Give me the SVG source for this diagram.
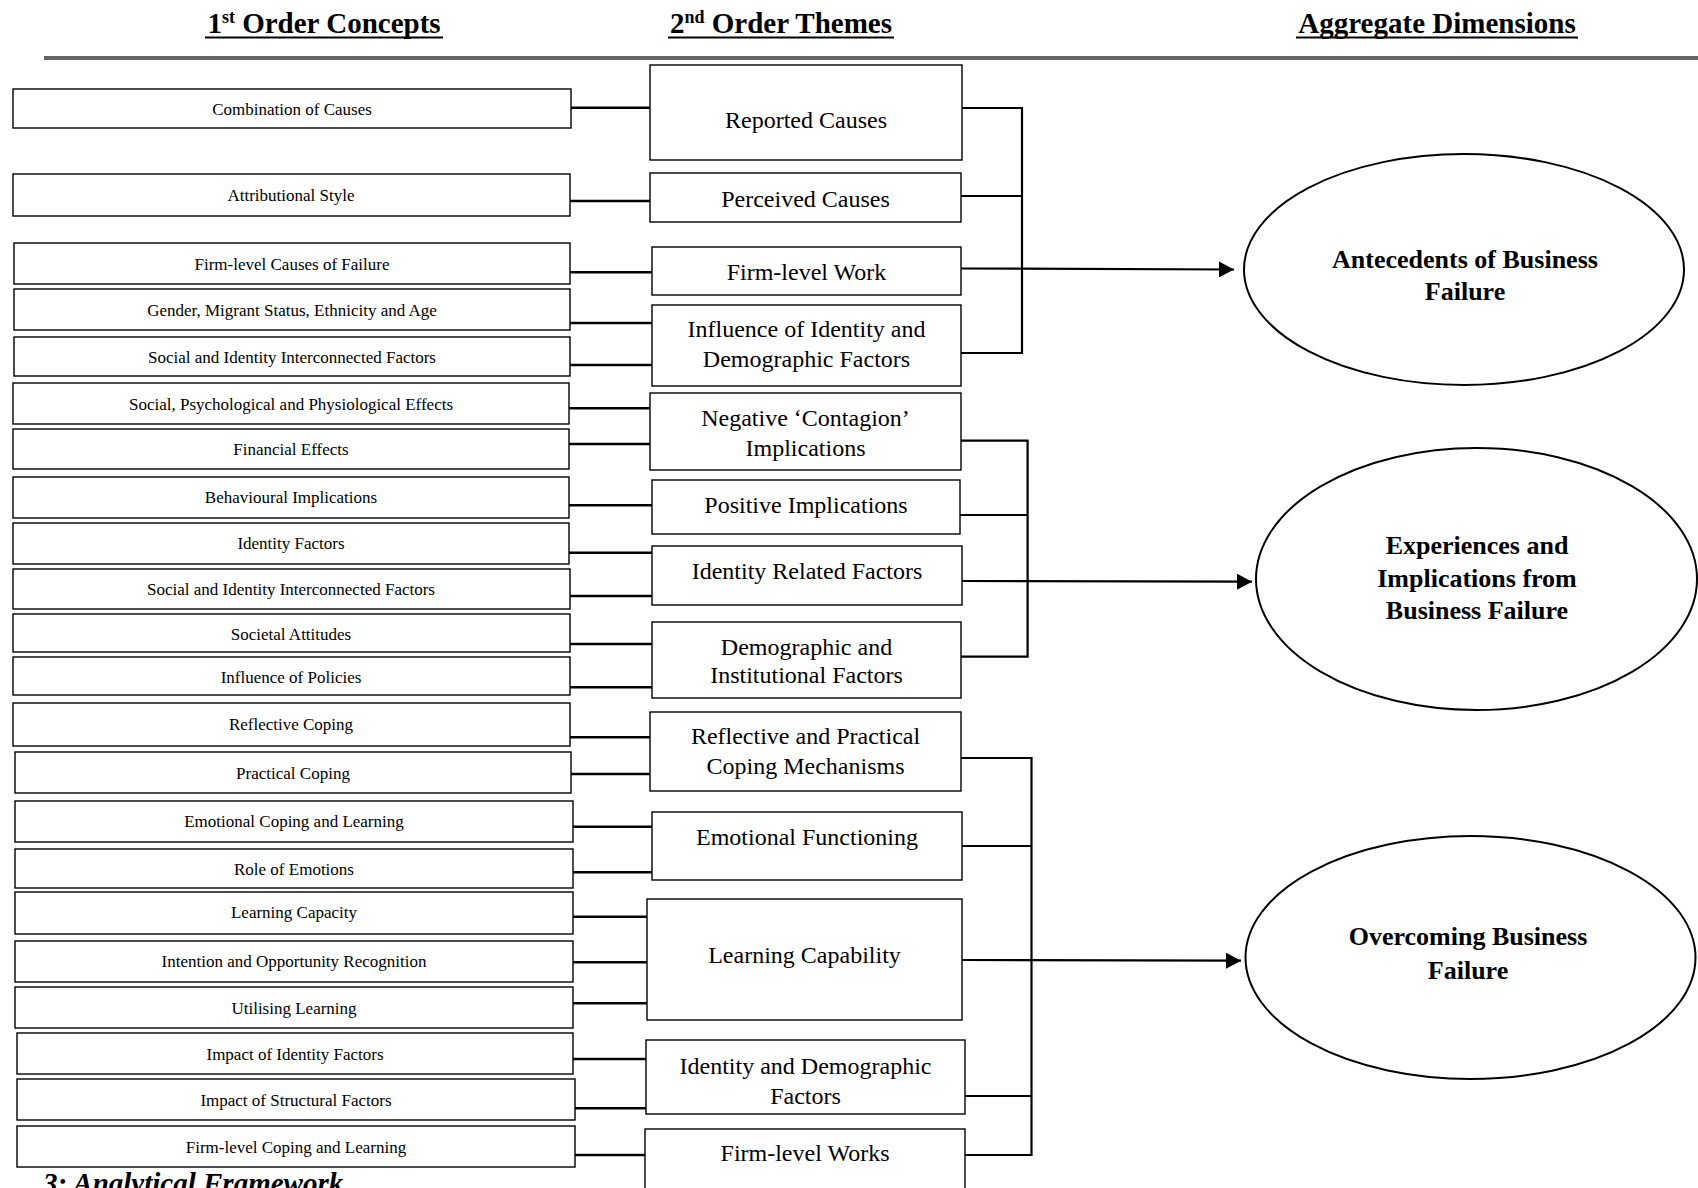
<svg xmlns="http://www.w3.org/2000/svg" width="1698" height="1188" viewBox="0 0 1698 1188">
<style>
.bx{fill:#fff;stroke:#000;stroke-width:1.4}
.t1{font-family:"Liberation Serif","Times New Roman",serif;font-size:17px;text-anchor:middle;fill:#000}
.t2{font-family:"Liberation Serif","Times New Roman",serif;font-size:24px;text-anchor:middle;fill:#000}
.el{fill:#fff;stroke:#000;stroke-width:2}
.t3{font-family:"Liberation Serif","Times New Roman",serif;font-size:26px;font-weight:bold;text-anchor:middle;fill:#000}
.hd{font-family:"Liberation Serif","Times New Roman",serif;font-size:29px;font-weight:bold;text-anchor:middle;fill:#000}
.c{stroke:#000;stroke-width:2.6;fill:none}
.br{stroke:#000;stroke-width:2.2;fill:none}
.ar{stroke:#000;stroke-width:2.2;fill:none;marker-end:url(#ah)}
</style>
<defs>
<marker id="ah" markerUnits="userSpaceOnUse" markerWidth="16" markerHeight="16" refX="15" refY="8" orient="auto">
<path d="M0,0 L15,8 L0,16 Z" fill="#000"/>
</marker>
</defs>
<rect width="1698" height="1188" fill="#fff"/>

<!-- headers -->
<text class="hd" x="324" y="33">1<tspan font-size="18" dy="-10">st</tspan><tspan dy="10"> Order Concepts</tspan></text>
<text class="hd" x="781" y="33">2<tspan font-size="18" dy="-10">nd</tspan><tspan dy="10"> Order Themes</tspan></text>
<text class="hd" x="1437" y="33">Aggregate Dimensions</text>
<g stroke="#000" stroke-width="2">
<line x1="205" y1="37.5" x2="443" y2="37.5"/>
<line x1="668" y1="37.5" x2="894" y2="37.5"/>
<line x1="1296" y1="37.5" x2="1578" y2="37.5"/>
</g>
<line x1="44" y1="58" x2="1698" y2="58" stroke="#666" stroke-width="4"/>

<!-- connectors -->
<g id="connectors">
<line class="c" x1="571" y1="107.7" x2="650" y2="107.7"/>
<line class="c" x1="570" y1="201" x2="650" y2="201"/>
<line class="c" x1="570" y1="272.3" x2="652" y2="272.3"/>
<line class="c" x1="570" y1="323" x2="652" y2="323"/>
<line class="c" x1="570" y1="365" x2="652" y2="365"/>
<line class="c" x1="569" y1="408.3" x2="650" y2="408.3"/>
<line class="c" x1="569" y1="444" x2="650" y2="444"/>
<line class="c" x1="569" y1="505.3" x2="652" y2="505.3"/>
<line class="c" x1="569" y1="552.7" x2="652" y2="552.7"/>
<line class="c" x1="570" y1="596" x2="652" y2="596"/>
<line class="c" x1="570" y1="644" x2="652" y2="644"/>
<line class="c" x1="570" y1="687.3" x2="652" y2="687.3"/>
<line class="c" x1="570" y1="737.3" x2="650" y2="737.3"/>
<line class="c" x1="571" y1="774" x2="650" y2="774"/>
<line class="c" x1="573" y1="826.7" x2="652" y2="826.7"/>
<line class="c" x1="573" y1="872.3" x2="652" y2="872.3"/>
<line class="c" x1="573" y1="916.7" x2="647" y2="916.7"/>
<line class="c" x1="573" y1="962.3" x2="647" y2="962.3"/>
<line class="c" x1="573" y1="1003.3" x2="647" y2="1003.3"/>
<line class="c" x1="573" y1="1059" x2="646" y2="1059"/>
<line class="c" x1="575" y1="1108.3" x2="646" y2="1108.3"/>
<line class="c" x1="575" y1="1155" x2="645" y2="1155"/>
<!-- bracket 1 -->
<path class="br" d="M962,108 H1022 V353 H961 M961,196 H1022"/>
<line class="ar" x1="961" y1="268.5" x2="1234" y2="269.5"/>
<!-- bracket 2 -->
<path class="br" d="M961,440.7 H1027.6 V656.7 H961 M960,515 H1027.6"/>
<line class="ar" x1="962" y1="581" x2="1252" y2="581.7"/>
<!-- bracket 3 -->
<path class="br" d="M961,758 H1031.5 V1155 H965 M962,846 H1031.5 M965,1096 H1031.5"/>
<line class="ar" x1="962" y1="960" x2="1241" y2="960.7"/>
</g>

<!-- first order concepts -->
<g id="c1"><rect class="bx" x="13" y="89" width="558" height="39"/><text class="t1" x="292" y="115">Combination of Causes</text></g>
<g id="c2"><rect class="bx" x="13" y="174" width="557" height="42"/><text class="t1" x="291" y="201">Attributional Style</text></g>
<g id="c3"><rect class="bx" x="14" y="243" width="556" height="41"/><text class="t1" x="292" y="270">Firm-level Causes of Failure</text></g>
<g id="c4"><rect class="bx" x="14" y="289" width="556" height="41"/><text class="t1" x="292" y="316">Gender, Migrant Status, Ethnicity and Age</text></g>
<g id="c5"><rect class="bx" x="14" y="337" width="556" height="39"/><text class="t1" x="292" y="363">Social and Identity Interconnected Factors</text></g>
<g id="c6"><rect class="bx" x="13" y="383" width="556" height="41"/><text class="t1" x="291" y="410">Social, Psychological and Physiological Effects</text></g>
<g id="c7"><rect class="bx" x="13" y="429" width="556" height="40"/><text class="t1" x="291" y="455">Financial Effects</text></g>
<g id="c8"><rect class="bx" x="13" y="477" width="556" height="41"/><text class="t1" x="291" y="503">Behavioural Implications</text></g>
<g id="c9"><rect class="bx" x="13" y="523" width="556" height="41"/><text class="t1" x="291" y="549">Identity Factors</text></g>
<g id="c10"><rect class="bx" x="13" y="569" width="557" height="40"/><text class="t1" x="291" y="595">Social and Identity Interconnected Factors</text></g>
<g id="c11"><rect class="bx" x="13" y="614" width="557" height="38"/><text class="t1" x="291" y="640">Societal Attitudes</text></g>
<g id="c12"><rect class="bx" x="13" y="657" width="557" height="38"/><text class="t1" x="291" y="683">Influence of Policies</text></g>
<g id="c13"><rect class="bx" x="13" y="703" width="557" height="43"/><text class="t1" x="291" y="730">Reflective Coping</text></g>
<g id="c14"><rect class="bx" x="15" y="752" width="556" height="41"/><text class="t1" x="293" y="779">Practical Coping</text></g>
<g id="c15"><rect class="bx" x="15" y="801" width="558" height="41"/><text class="t1" x="294" y="827">Emotional Coping and Learning</text></g>
<g id="c16"><rect class="bx" x="15" y="849" width="558" height="39"/><text class="t1" x="294" y="875">Role of Emotions</text></g>
<g id="c17"><rect class="bx" x="15" y="892" width="558" height="42"/><text class="t1" x="294" y="918">Learning Capacity</text></g>
<g id="c18"><rect class="bx" x="15" y="941" width="558" height="41"/><text class="t1" x="294" y="967">Intention and Opportunity Recognition</text></g>
<g id="c19"><rect class="bx" x="15" y="987" width="558" height="41"/><text class="t1" x="294" y="1014">Utilising Learning</text></g>
<g id="c20"><rect class="bx" x="17" y="1033" width="556" height="41"/><text class="t1" x="295" y="1060">Impact of Identity Factors</text></g>
<g id="c21"><rect class="bx" x="17" y="1079" width="558" height="41"/><text class="t1" x="296" y="1106">Impact of Structural Factors</text></g>
<g id="c22"><rect class="bx" x="17" y="1126" width="558" height="41"/><text class="t1" x="296" y="1153">Firm-level Coping and Learning</text></g>

<!-- second order themes -->
<g id="t1"><rect class="bx" x="650" y="65" width="312" height="95"/><text class="t2" x="806" y="128">Reported Causes</text></g>
<g id="t2"><rect class="bx" x="650" y="173" width="311" height="49"/><text class="t2" x="805.5" y="207">Perceived Causes</text></g>
<g id="t3"><rect class="bx" x="652" y="247" width="309" height="48"/><text class="t2" x="806.5" y="280">Firm-level Work</text></g>
<g id="t4"><rect class="bx" x="652" y="305" width="309" height="81"/><text class="t2" x="806.5" y="337">Influence of Identity and</text><text class="t2" x="806.5" y="367">Demographic Factors</text></g>
<g id="t5"><rect class="bx" x="650" y="393" width="311" height="77"/><text class="t2" x="805.5" y="426">Negative ‘Contagion’</text><text class="t2" x="805.5" y="456">Implications</text></g>
<g id="t6"><rect class="bx" x="652" y="480" width="308" height="54"/><text class="t2" x="806" y="513">Positive Implications</text></g>
<g id="t7"><rect class="bx" x="652" y="546" width="310" height="59"/><text class="t2" x="807" y="579">Identity Related Factors</text></g>
<g id="t8"><rect class="bx" x="652" y="622" width="309" height="76"/><text class="t2" x="806.5" y="655">Demographic and</text><text class="t2" x="806.5" y="683">Institutional Factors</text></g>
<g id="t9"><rect class="bx" x="650" y="712" width="311" height="79"/><text class="t2" x="805.5" y="744">Reflective and Practical</text><text class="t2" x="805.5" y="773.5">Coping Mechanisms</text></g>
<g id="t10"><rect class="bx" x="652" y="812" width="310" height="68"/><text class="t2" x="807" y="845">Emotional Functioning</text></g>
<g id="t11"><rect class="bx" x="647" y="899" width="315" height="121"/><text class="t2" x="804.5" y="962.5">Learning Capability</text></g>
<g id="t12"><rect class="bx" x="646" y="1040" width="319" height="74"/><text class="t2" x="805.5" y="1074">Identity and Demographic</text><text class="t2" x="805.5" y="1104">Factors</text></g>
<g id="t13"><rect class="bx" x="645" y="1129" width="320" height="80"/><text class="t2" x="805" y="1161">Firm-level Works</text></g>

<!-- aggregate dimensions -->
<g id="d1"><ellipse class="el" cx="1464" cy="269.5" rx="220" ry="115.5"/><text class="t3" x="1465" y="268">Antecedents of Business</text><text class="t3" x="1465" y="300">Failure</text></g>
<g id="d2"><ellipse class="el" cx="1476.5" cy="579" rx="220.5" ry="131"/><text class="t3" x="1477" y="554">Experiences and</text><text class="t3" x="1477" y="587">Implications from</text><text class="t3" x="1477" y="619">Business Failure</text></g>
<g id="d3"><ellipse class="el" cx="1470.5" cy="957.5" rx="225" ry="121.5"/><text class="t3" x="1468" y="945">Overcoming Business</text><text class="t3" x="1468" y="979">Failure</text></g>

<text x="43" y="1193" font-family="Liberation Serif, Times New Roman, serif" font-size="29" font-weight="bold" font-style="italic" fill="#000">3: Analytical Framework</text>
</svg>
